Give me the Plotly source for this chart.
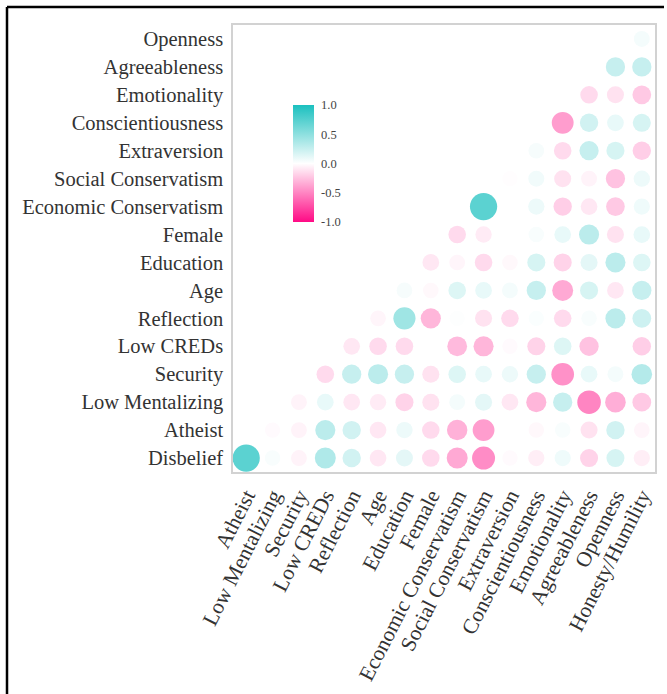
import plotly.graph_objects as go

# ---- data ----
x_labels = ["Atheist", "Low Mentalizing", "Security", "Low CREDs", "Reflection", "Age",
            "Education", "Female", "Economic Conservatism", "Social Conservatism",
            "Extraversion", "Conscientiousness", "Emotionality", "Agreeableness",
            "Openness", "Honesty/Humility"]
y_labels = ["Disbelief", "Atheist", "Low Mentalizing", "Security", "Low CREDs", "Reflection",
            "Age", "Education", "Female", "Economic Conservatism", "Social Conservatism",
            "Extraversion", "Conscientiousness", "Emotionality", "Agreeableness", "Openness"]

# each row: correlations with x_labels[row_index:] (lower triangle)
r_disbelief = [0.72, 0.03, -0.05, 0.35, 0.2, -0.1, 0.12, -0.15, -0.35, -0.47, -0.02, -0.07, 0.07, -0.18, 0.18, -0.07]
r_atheist = [-0.02, -0.05, 0.3, 0.2, -0.1, 0.08, -0.15, -0.32, -0.4, 0.0, -0.03, 0.03, -0.12, 0.2, -0.04]
r_low_mentalizing = [-0.05, 0.1, -0.1, -0.08, -0.18, -0.12, 0.05, 0.12, -0.1, -0.3, 0.25, -0.5, -0.33, -0.22]
r_security = [-0.15, 0.25, 0.3, 0.25, -0.12, 0.15, 0.1, 0.08, 0.25, -0.45, 0.1, 0.05, 0.33]
r_low_creds = [-0.1, -0.15, -0.15, 0.0, -0.28, -0.3, -0.02, -0.18, 0.15, -0.25, 0.0, -0.2]
r_reflection = [-0.04, 0.42, -0.3, 0.01, -0.12, -0.15, 0.02, -0.15, 0.03, 0.3, 0.22]
r_age = [0.04, -0.03, 0.15, 0.1, 0.05, 0.25, -0.35, 0.18, -0.1, 0.25]
r_education = [-0.1, -0.04, -0.15, -0.03, 0.18, -0.18, 0.12, 0.3, 0.15]
r_female = [-0.15, -0.08, 0.0, 0.03, 0.1, 0.3, -0.12, 0.1]
r_econ_cons = [0.72, 0.0, 0.08, -0.2, -0.1, -0.22, 0.07]
r_social_cons = [-0.01, 0.06, -0.12, -0.05, -0.25, 0.08]
r_extraversion = [0.04, -0.15, 0.25, 0.18, -0.2]
r_conscientiousness = [-0.4, 0.2, 0.1, 0.18]
r_emotionality = [-0.15, -0.12, -0.22]
r_agreeableness = [0.25, 0.25]
r_openness = [0.05]

rows = [r_disbelief, r_atheist, r_low_mentalizing, r_security, r_low_creds, r_reflection,
        r_age, r_education, r_female, r_econ_cons, r_social_cons, r_extraversion,
        r_conscientiousness, r_emotionality, r_agreeableness, r_openness]

xs, ys, rs = [], [], []
for i, row in enumerate(rows):
    for k, v in enumerate(row):
        xs.append(x_labels[i + k])
        ys.append(y_labels[i])
        rs.append(v)

sizes = [15 + 17 * abs(v) for v in rs]

colorscale = [[0.0, "#FF0A85"], [0.5, "#FFFFFF"], [1.0, "#1BC0BF"]]

# ---- layout geometry (pixels) ----
W, H = 667, 694
ml, mr, mt, mb = 233, 12, 25, 222
pw = W - ml - mr
ph = H - mt - mb

def px_x(x):
    return (x - ml) / pw

def px_y(y):
    return (H - mb - y) / ph

serif = "Liberation Serif, Times New Roman, serif"

fig = go.Figure(go.Scatter(
    x=xs, y=ys, mode="markers",
    marker=dict(
        size=sizes, color=rs, cmin=-1, cmax=1, colorscale=colorscale,
        line=dict(width=0), opacity=1,
        colorbar=dict(
            x=px_x(293), xanchor="left", xref="paper", xpad=0,
            y=px_y(163.5), yanchor="middle", yref="paper", ypad=0,
            len=117 / ph, lenmode="fraction", thickness=21,
            outlinewidth=0,
            tickvals=[1.0, 0.5, 0.0, -0.5, -1.0],
            ticktext=["1.0", "0.5", "0.0", "-0.5", "-1.0"],
            ticks="outside", ticklen=5, tickcolor="rgba(0,0,0,0)",
            tickfont=dict(family=serif, size=12.5, color="#444444"),
        ),
    ),
    hoverinfo="skip",
))

fig.update_layout(
    width=W, height=H,
    margin=dict(l=ml, r=mr, t=mt, b=mb, pad=0),
    paper_bgcolor="white", plot_bgcolor="white",
    showlegend=False,
    font=dict(family=serif, color="#333333"),
    xaxis=dict(
        type="category", categoryorder="array", categoryarray=x_labels,
        tickmode="array", tickvals=x_labels, ticktext=x_labels,
        range=[-0.5, 15.5], showgrid=False, zeroline=False, automargin=False,
        showline=True, mirror=True, linecolor="#d2d2d2", linewidth=1.5,
        ticks="outside", ticklen=1, tickcolor="rgba(0,0,0,0)",
        tickangle=-63, tickfont=dict(family=serif, size=21.5, color="#333333"),
        fixedrange=True,
    ),
    yaxis=dict(
        type="category", categoryorder="array", categoryarray=y_labels,
        tickmode="array", tickvals=y_labels, ticktext=y_labels,
        range=[-0.5, 15.5], showgrid=False, zeroline=False, automargin=False,
        showline=True, mirror=True, linecolor="#d2d2d2", linewidth=1.5,
        ticks="outside", ticklen=4, tickcolor="rgba(0,0,0,0)",
        tickfont=dict(family=serif, size=20.5, color="#333333"),
        fixedrange=True,
    ),
    shapes=[
        dict(type="line", xref="paper", yref="paper",
             x0=px_x(7), x1=px_x(664), y0=px_y(7), y1=px_y(7),
             line=dict(color="black", width=2.5)),
        dict(type="line", xref="paper", yref="paper",
             x0=px_x(7), x1=px_x(7), y0=px_y(7), y1=px_y(700),
             line=dict(color="black", width=2.5)),
    ],
)

fig.write_html("out.html", config={"displayModeBar": False},
               post_script="document.body.style.margin='0px';")
